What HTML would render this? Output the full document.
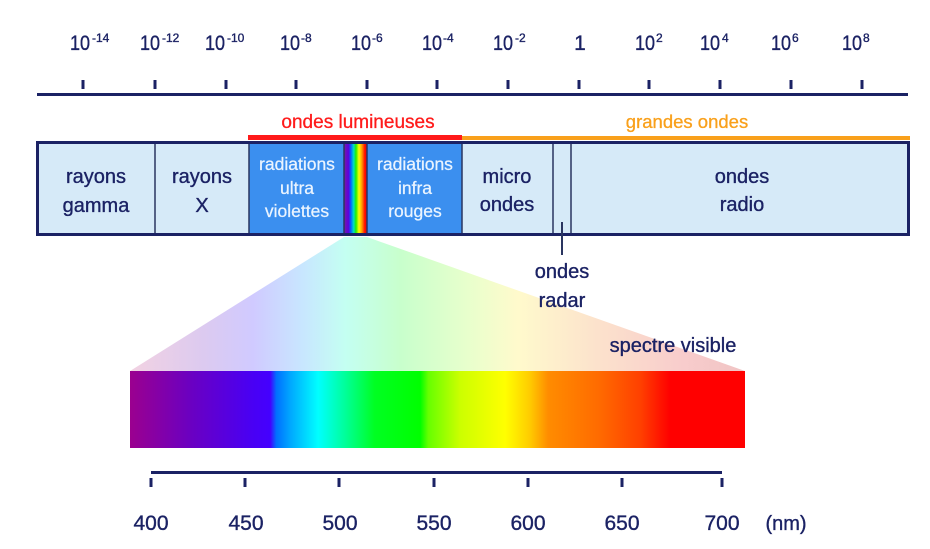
<!DOCTYPE html>
<html><head><meta charset="utf-8"><style>
html,body{margin:0;padding:0;background:#fff;}
svg{display:block;font-family:"Liberation Sans",sans-serif;}
</style></head><body>
<svg width="930" height="549" viewBox="0 0 930 549" xmlns="http://www.w3.org/2000/svg">
<defs>
<linearGradient id="spec" gradientUnits="userSpaceOnUse" x1="130" y1="0" x2="745" y2="0">
<stop offset="0" stop-color="#9b008f"/>
<stop offset="0.10" stop-color="#6a00c2"/>
<stop offset="0.195" stop-color="#4a00f2"/>
<stop offset="0.228" stop-color="#4400ff"/>
<stop offset="0.238" stop-color="#0070ff"/>
<stop offset="0.262" stop-color="#00aaff"/>
<stop offset="0.306" stop-color="#00ffff"/>
<stop offset="0.35" stop-color="#00ff99"/>
<stop offset="0.398" stop-color="#00ff22"/>
<stop offset="0.472" stop-color="#00ff00"/>
<stop offset="0.485" stop-color="#66ff00"/>
<stop offset="0.537" stop-color="#ccff00"/>
<stop offset="0.61" stop-color="#ffff00"/>
<stop offset="0.65" stop-color="#ffcc00"/>
<stop offset="0.68" stop-color="#ff8c00"/>
<stop offset="0.764" stop-color="#ff6a00"/>
<stop offset="0.83" stop-color="#ff4000"/>
<stop offset="0.878" stop-color="#ff0000"/>
<stop offset="1" stop-color="#ff0000"/>
</linearGradient>
<linearGradient id="pastel" gradientUnits="userSpaceOnUse" x1="130" y1="0" x2="745" y2="0">
<stop offset="0" stop-color="#f2d2e2"/>
<stop offset="0.12" stop-color="#dccaf0"/>
<stop offset="0.2" stop-color="#d0caff"/>
<stop offset="0.28" stop-color="#c8e6ff"/>
<stop offset="0.35" stop-color="#c4fff2"/>
<stop offset="0.44" stop-color="#c8ffcc"/>
<stop offset="0.55" stop-color="#e8ffcc"/>
<stop offset="0.63" stop-color="#fffacc"/>
<stop offset="0.76" stop-color="#fce2cc"/>
<stop offset="0.9" stop-color="#f8cccc"/>
<stop offset="1" stop-color="#f0c4c4"/>
</linearGradient>
<linearGradient id="strip" gradientUnits="userSpaceOnUse" x1="344" y1="0" x2="367" y2="0">
<stop offset="0" stop-color="#7a1aa0"/>
<stop offset="0.2" stop-color="#5a00e0"/>
<stop offset="0.3" stop-color="#0066ff"/>
<stop offset="0.42" stop-color="#00e0c0"/>
<stop offset="0.52" stop-color="#22ee00"/>
<stop offset="0.65" stop-color="#ffff00"/>
<stop offset="0.78" stop-color="#ff9900"/>
<stop offset="0.9" stop-color="#ff1100"/>
<stop offset="1" stop-color="#ee0000"/>
</linearGradient>
</defs>

<!-- top axis labels -->
<g fill="#1b2264" stroke="#1b2264" stroke-width="0.35" font-size="21">
<text x="70" y="50" textLength="20" lengthAdjust="spacingAndGlyphs">10</text><text x="92" y="42" font-size="12">-14</text>
<text x="140" y="50" textLength="20" lengthAdjust="spacingAndGlyphs">10</text><text x="162" y="42" font-size="12">-12</text>
<text x="205" y="50" textLength="20" lengthAdjust="spacingAndGlyphs">10</text><text x="227" y="42" font-size="12">-10</text>
<text x="280" y="50" textLength="20" lengthAdjust="spacingAndGlyphs">10</text><text x="301" y="42" font-size="12">-8</text>
<text x="351" y="50" textLength="20" lengthAdjust="spacingAndGlyphs">10</text><text x="372" y="42" font-size="12">-6</text>
<text x="422" y="50" textLength="20" lengthAdjust="spacingAndGlyphs">10</text><text x="443" y="42" font-size="12">-4</text>
<text x="493" y="50" textLength="20" lengthAdjust="spacingAndGlyphs">10</text><text x="515" y="42" font-size="12">-2</text>
<text x="580" y="50" text-anchor="middle">1</text>
<text x="635" y="50" textLength="20" lengthAdjust="spacingAndGlyphs">10</text><text x="656" y="42" font-size="12">2</text>
<text x="700" y="50" textLength="20" lengthAdjust="spacingAndGlyphs">10</text><text x="722" y="42" font-size="12">4</text>
<text x="771" y="50" textLength="20" lengthAdjust="spacingAndGlyphs">10</text><text x="792" y="42" font-size="12">6</text>
<text x="842" y="50" textLength="20" lengthAdjust="spacingAndGlyphs">10</text><text x="863" y="42" font-size="12">8</text>
</g>

<!-- top axis -->
<g fill="#1b2264">
<rect x="37" y="93" width="871" height="3"/>
<rect x="81.5" y="80" width="3" height="9"/>
<rect x="153.5" y="80" width="3" height="9"/>
<rect x="224.5" y="80" width="3" height="9"/>
<rect x="294.5" y="80" width="3" height="9"/>
<rect x="365.5" y="80" width="3" height="9"/>
<rect x="435.5" y="80" width="3" height="9"/>
<rect x="506.5" y="80" width="3" height="9"/>
<rect x="577.5" y="80" width="3" height="9"/>
<rect x="647.5" y="80" width="3" height="9"/>
<rect x="718.5" y="80" width="3" height="9"/>
<rect x="789.5" y="80" width="3" height="9"/>
<rect x="860.5" y="80" width="3" height="9"/>
</g>

<!-- category labels -->
<text x="358" y="128" font-size="19" fill="#ff1a1a" stroke="#ff1a1a" stroke-width="0.3" text-anchor="middle">ondes lumineuses</text>
<text x="687" y="128" font-size="18.5" fill="#f9a01b" stroke="#f9a01b" stroke-width="0.3" text-anchor="middle">grandes ondes</text>
<rect x="248" y="135" width="214" height="5" fill="#ff1a1a"/>
<rect x="462" y="136" width="448" height="4" fill="#f9a01b"/>

<!-- triangle -->
<polygon points="344,237 367,237 745,371 130,371" fill="url(#pastel)"/>

<!-- band box -->
<rect x="37.5" y="142.5" width="871" height="92" fill="#d6eaf8"/>
<rect x="249" y="143" width="95" height="91" fill="#3b8fef"/>
<rect x="367" y="143" width="95" height="91" fill="#3b8fef"/>
<rect x="344" y="143" width="23" height="91" fill="url(#strip)"/>
<g stroke="#2a3560" stroke-width="1.5">
<line x1="155" y1="143" x2="155" y2="234"/>
<line x1="249" y1="143" x2="249" y2="234"/>
<line x1="344" y1="143" x2="344" y2="234"/>
<line x1="367" y1="143" x2="367" y2="234"/>
<line x1="462" y1="143" x2="462" y2="234"/>
<line x1="553" y1="143" x2="553" y2="234"/>
<line x1="571" y1="143" x2="571" y2="234"/>
</g>
<rect x="37.5" y="142.5" width="871" height="92" fill="none" stroke="#1b2264" stroke-width="3"/>

<g font-size="20" fill="#1b2264" stroke="#1b2264" stroke-width="0.35" text-anchor="middle">
<text x="96" y="183">rayons</text>
<text x="96" y="212">gamma</text>
<text x="202" y="183">rayons</text>
<text x="202" y="212">X</text>
<text x="507" y="183">micro</text>
<text x="507" y="211">ondes</text>
<text x="742" y="183">ondes</text>
<text x="742" y="211">radio</text>
</g>
<g font-size="17.5" fill="#eaf4ff" stroke="#eaf4ff" stroke-width="0.25" text-anchor="middle">
<text x="297" y="170">radiations</text>
<text x="297" y="194">ultra</text>
<text x="297" y="217">violettes</text>
<text x="415" y="170">radiations</text>
<text x="415" y="194">infra</text>
<text x="415" y="217">rouges</text>
</g>

<!-- radar pointer -->
<rect x="561" y="222" width="2" height="33" fill="#2a3560"/>
<g font-size="20" fill="#1b2264" stroke="#1b2264" stroke-width="0.35" text-anchor="middle">
<text x="562" y="278">ondes</text>
<text x="562" y="307">radar</text>
</g>

<text x="673" y="352" font-size="20" fill="#1b2264" stroke="#1b2264" stroke-width="0.35" text-anchor="middle">spectre visible</text>

<!-- visible spectrum bar -->
<rect x="130" y="371" width="615" height="77" fill="url(#spec)"/>

<!-- bottom axis -->
<g fill="#1b2264">
<rect x="151" y="471" width="571" height="3"/>
<rect x="149.5" y="478" width="3" height="9"/>
<rect x="243.5" y="478" width="3" height="9"/>
<rect x="337.5" y="478" width="3" height="9"/>
<rect x="432.5" y="478" width="3" height="9"/>
<rect x="526.5" y="478" width="3" height="9"/>
<rect x="620.5" y="478" width="3" height="9"/>
<rect x="720.5" y="478" width="3" height="9"/>
</g>
<g font-size="21" fill="#1b2264" stroke="#1b2264" stroke-width="0.35" text-anchor="middle">
<text x="151" y="530">400</text>
<text x="246" y="530">450</text>
<text x="340" y="530">500</text>
<text x="434" y="530">550</text>
<text x="528" y="530">600</text>
<text x="622" y="530">650</text>
<text x="722" y="530">700</text>
<text x="786" y="530" font-size="20">(nm)</text>
</g>
</svg>
</body></html>
